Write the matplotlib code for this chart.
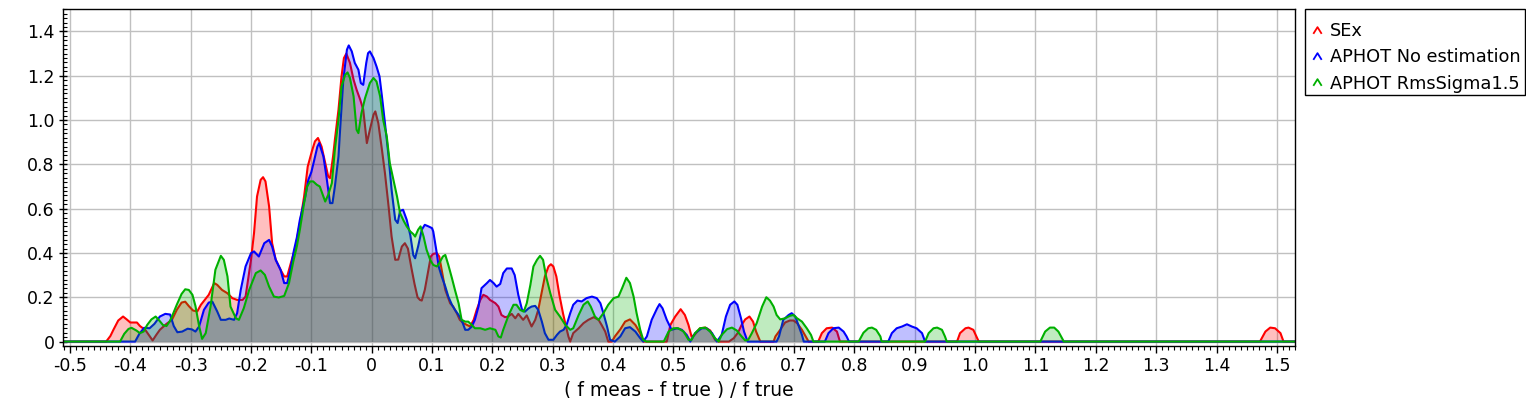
import matplotlib
matplotlib.use("Agg")
import matplotlib.pyplot as plt
from matplotlib.lines import Line2D
from matplotlib.path import Path
from matplotlib.patches import Rectangle
from matplotlib.ticker import MultipleLocator, FuncFormatter

sex_x = [-0.52, -0.44, -0.433, -0.428, -0.42, -0.412, -0.406, -0.40, -0.389, -0.384, -0.375, -0.368, -0.363, -0.357,
         -0.351, -0.34, -0.331, -0.323, -0.315, -0.309, -0.303, -0.296, -0.289, -0.283, -0.27, -0.261, -0.256, -0.248,
         -0.239, -0.231, -0.223, -0.214, -0.209, -0.2, -0.195, -0.19, -0.184, -0.18, -0.176, -0.17, -0.165, -0.159,
         -0.151, -0.145, -0.14, -0.134, -0.126, -0.118, -0.112, -0.106, -0.099, -0.094, -0.089, -0.083, -0.077, -0.072,
         -0.069, -0.064, -0.061, -0.055, -0.05, -0.046, -0.042, -0.036, -0.03, -0.025, -0.019, -0.014, -0.011, -0.008,
         -0.003, 0.003, 0.006, 0.011, 0.017, 0.022, 0.028, 0.033, 0.039, 0.044, 0.05, 0.055, 0.06, 0.066, 0.071, 0.076,
         0.08, 0.083, 0.088, 0.094, 0.098, 0.102, 0.108, 0.112, 0.116, 0.122, 0.13, 0.135, 0.141, 0.146, 0.152, 0.158,
         0.163, 0.169, 0.174, 0.18, 0.185, 0.191, 0.196, 0.205, 0.21, 0.215, 0.221, 0.226, 0.232, 0.238, 0.243, 0.251,
         0.257, 0.265, 0.271, 0.276, 0.282, 0.287, 0.293, 0.297, 0.301, 0.306, 0.311, 0.317, 0.322, 0.326, 0.329, 0.334,
         0.343, 0.351, 0.359, 0.368, 0.376, 0.381, 0.387, 0.392, 0.398, 0.403, 0.412, 0.42, 0.428, 0.437, 0.445, 0.45,
         0.489, 0.495, 0.503, 0.512, 0.519, 0.525, 0.53, 0.535, 0.544, 0.553, 0.561, 0.569, 0.575, 0.592, 0.6, 0.607,
         0.613, 0.619, 0.626, 0.632, 0.637, 0.644, 0.666, 0.669, 0.677, 0.685, 0.693, 0.699, 0.705, 0.713, 0.721, 0.724,
         0.74, 0.746, 0.754, 0.763, 0.771, 0.776, 0.97, 0.975, 0.984, 0.989, 0.997, 1.006, 1.472, 1.481, 1.489, 1.497,
         1.506, 1.511, 1.54]
sex_y = [0, 0, 0.025, 0.053, 0.095, 0.113, 0.10, 0.086, 0.086, 0.07, 0.052, 0.025, 0.005, 0.03,
         0.053, 0.08, 0.098, 0.143, 0.176, 0.18, 0.16, 0.14, 0.136, 0.166, 0.211, 0.264, 0.256, 0.233,
         0.218, 0.196, 0.188, 0.188, 0.203, 0.369, 0.489, 0.655, 0.73, 0.742, 0.723, 0.61, 0.444, 0.369,
         0.324, 0.294, 0.294, 0.354, 0.429, 0.55, 0.655, 0.79, 0.86, 0.904, 0.919, 0.88, 0.806, 0.745,
         0.738, 0.836, 0.911, 1.047, 1.197, 1.28, 1.3, 1.258, 1.182, 1.137, 1.092, 1.047, 0.971, 0.896,
         0.956, 1.024, 1.039, 0.986, 0.866, 0.76, 0.61, 0.474, 0.369, 0.37, 0.429, 0.444, 0.42, 0.33, 0.26, 0.2,
         0.188, 0.185, 0.233, 0.324, 0.384, 0.396, 0.399, 0.384, 0.324, 0.233, 0.173, 0.158, 0.128, 0.098, 0.083, 0.075,
         0.068, 0.098, 0.143, 0.188, 0.211, 0.203, 0.188, 0.173, 0.158, 0.12, 0.11, 0.113, 0.125, 0.105, 0.125, 0.098,
         0.118, 0.068, 0.098, 0.143, 0.226, 0.294, 0.339, 0.349, 0.339, 0.294, 0.211, 0.128, 0.068, 0.023, 0, 0.038,
         0.06, 0.083, 0.098, 0.11, 0.098, 0.075, 0.045, 0, 0, 0.023, 0.055, 0.09, 0.1, 0.075, 0.038, 0,
         0, 0.075, 0.113, 0.146, 0.12, 0.075, 0.023, 0.03, 0.06, 0.063, 0.05, 0.008, 0, 0, 0.015, 0.04,
         0.075, 0.1, 0.113, 0.09, 0.045, 0, 0, 0.023, 0.053, 0.086, 0.095, 0.095, 0.083, 0.053, 0.015, 0,
         0, 0.038, 0.06, 0.063, 0.045, 0, 0, 0.038, 0.06, 0.063, 0.053, 0, 0, 0.045, 0.063, 0.06,
         0.038, 0, 0]

noest_x = [-0.52, -0.392, -0.385, -0.377, -0.368, -0.36, -0.351, -0.342, -0.334, -0.328, -0.322, -0.314, -0.305,
           -0.298, -0.292, -0.286, -0.278, -0.27, -0.264, -0.256, -0.25, -0.242, -0.236, -0.228, -0.223, -0.217,
           -0.209, -0.2, -0.195, -0.187, -0.178, -0.17, -0.165, -0.159, -0.151, -0.145, -0.14, -0.135, -0.129, -0.124,
           -0.119, -0.11, -0.105, -0.1, -0.096, -0.09, -0.087, -0.08, -0.075, -0.069, -0.065, -0.061, -0.055, -0.052,
           -0.047, -0.041, -0.038, -0.033, -0.028, -0.022, -0.018, -0.014, -0.009, -0.006, -0.003, 0.003, 0.008, 0.013,
           0.017, 0.022, 0.028, 0.033, 0.039, 0.043, 0.047, 0.052, 0.058, 0.064, 0.069, 0.072, 0.077, 0.083, 0.088,
           0.094, 0.1, 0.102, 0.107, 0.111, 0.116, 0.122, 0.127, 0.133, 0.138, 0.144, 0.149, 0.155, 0.16, 0.166, 0.171,
           0.177, 0.182, 0.191, 0.196, 0.202, 0.207, 0.213, 0.218, 0.224, 0.232, 0.237, 0.243, 0.249, 0.254, 0.26,
           0.265, 0.271, 0.276, 0.282, 0.287, 0.293, 0.301, 0.307, 0.312, 0.318, 0.323, 0.329, 0.334, 0.341, 0.348,
           0.356, 0.365, 0.373, 0.379, 0.384, 0.39, 0.395, 0.403, 0.412, 0.42, 0.428, 0.437, 0.445, 0.45, 0.456, 0.464,
           0.473, 0.477, 0.482, 0.489, 0.497, 0.506, 0.514, 0.522, 0.528, 0.536, 0.547, 0.555, 0.564, 0.572, 0.58,
           0.587, 0.594, 0.601, 0.606, 0.612, 0.617, 0.623, 0.671, 0.675, 0.682, 0.691, 0.696, 0.702, 0.707, 0.713,
           0.716, 0.751, 0.757, 0.765, 0.774, 0.782, 0.787, 0.791, 0.856, 0.862, 0.87, 0.879, 0.887, 0.895, 0.903,
           0.912, 0.917, 1.54]
noest_y = [0, 0, 0.035, 0.062, 0.06, 0.08, 0.113, 0.125, 0.122, 0.07, 0.042, 0.045, 0.058,
           0.055, 0.045, 0.068, 0.143, 0.176, 0.18, 0.136, 0.098, 0.098, 0.104, 0.098, 0.128, 0.233,
           0.339, 0.399, 0.407, 0.384, 0.444, 0.459, 0.429, 0.369, 0.324, 0.264, 0.264, 0.32, 0.41, 0.47,
           0.55, 0.655, 0.73, 0.765, 0.81, 0.88, 0.896, 0.836, 0.745, 0.625, 0.625, 0.7, 0.836, 0.971,
           1.182, 1.318, 1.337, 1.31, 1.258, 1.227, 1.167, 1.159, 1.258, 1.302, 1.31, 1.28, 1.242, 1.197,
           1.107, 0.986, 0.836, 0.685, 0.55, 0.535, 0.59, 0.595, 0.55, 0.48, 0.39, 0.376, 0.43, 0.505, 0.527,
           0.52, 0.512, 0.497, 0.414, 0.339, 0.294, 0.248, 0.203, 0.166, 0.143, 0.12, 0.098, 0.053, 0.053, 0.068, 0.098,
           0.158, 0.241, 0.264, 0.278, 0.264, 0.248, 0.26, 0.309, 0.33, 0.33, 0.3, 0.21, 0.145, 0.135, 0.15,
           0.158, 0.161, 0.143, 0.09, 0.038, 0.008, 0.008, 0.03, 0.045, 0.053, 0.075, 0.128, 0.166, 0.185, 0.181,
           0.196, 0.203, 0.196, 0.173, 0.128, 0.068, 0.008, 0, 0.023, 0.06, 0.065, 0.045, 0.015, 0, 0.023, 0.098,
           0.15, 0.169, 0.15, 0.098, 0.053, 0.06, 0.053, 0.03, 0, 0.038, 0.06, 0.06, 0.038, 0, 0.03,
           0.113, 0.166, 0.181, 0.166, 0.105, 0.045, 0, 0, 0.023, 0.098, 0.12, 0.128, 0.113, 0.075, 0.03,
           0, 0, 0.038, 0.06, 0.063, 0.045, 0.023, 0, 0, 0.038, 0.06, 0.068, 0.078, 0.068, 0.06,
           0.038, 0, 0]

rms_x = [-0.52, -0.417, -0.41, -0.403, -0.398, -0.39, -0.384, -0.378, -0.372, -0.365, -0.358, -0.352, -0.346, -0.34,
         -0.335, -0.331, -0.323, -0.315, -0.309, -0.303, -0.297, -0.292, -0.286, -0.281, -0.275, -0.267, -0.259,
         -0.25, -0.245, -0.239, -0.234, -0.225, -0.22, -0.212, -0.203, -0.192, -0.184, -0.177, -0.17, -0.162, -0.154,
         -0.145, -0.137, -0.13, -0.124, -0.119, -0.112, -0.107, -0.102, -0.097, -0.091, -0.086, -0.08, -0.077, -0.072,
         -0.066, -0.061, -0.055, -0.05, -0.044, -0.04, -0.036, -0.03, -0.025, -0.022, -0.017, -0.011, -0.003, 0.003,
         0.008, 0.014, 0.019, 0.025, 0.03, 0.036, 0.042, 0.047, 0.053, 0.058, 0.064, 0.069, 0.072, 0.077, 0.081,
         0.086, 0.091, 0.097, 0.102, 0.108, 0.112, 0.118, 0.122, 0.127, 0.133, 0.138, 0.144, 0.149, 0.155, 0.16,
         0.166, 0.171, 0.18, 0.188, 0.196, 0.205, 0.21, 0.214, 0.218, 0.227, 0.235, 0.24, 0.246, 0.252, 0.257, 0.263,
         0.268, 0.274, 0.279, 0.284, 0.289, 0.296, 0.304, 0.312, 0.321, 0.329, 0.334, 0.343, 0.351, 0.358, 0.363,
         0.37, 0.376, 0.384, 0.392, 0.401, 0.409, 0.415, 0.422, 0.428, 0.434, 0.439, 0.445, 0.45, 0.455, 0.484, 0.492,
         0.5, 0.508, 0.517, 0.525, 0.53, 0.536, 0.544, 0.553, 0.561, 0.569, 0.575, 0.58, 0.589, 0.597, 0.605, 0.613,
         0.619, 0.624, 0.63, 0.638, 0.647, 0.654, 0.66, 0.666, 0.671, 0.677, 0.685, 0.693, 0.699, 0.705, 0.713, 0.721,
         0.728, 0.732, 0.807, 0.815, 0.823, 0.829, 0.836, 0.843, 0.845, 0.917, 0.923, 0.931, 0.937, 0.945, 0.95,
         0.953, 1.108, 1.116, 1.124, 1.131, 1.138, 1.147, 1.54]
rms_y = [0, 0, 0.035, 0.057, 0.062, 0.05, 0.038, 0.045, 0.075, 0.1, 0.113, 0.095, 0.075, 0.07,
         0.09, 0.113, 0.166, 0.215, 0.236, 0.233, 0.211, 0.16, 0.07, 0.012, 0.038, 0.158, 0.324,
         0.387, 0.369, 0.294, 0.158, 0.105, 0.098, 0.15, 0.233, 0.309, 0.321, 0.301, 0.248, 0.203, 0.199,
         0.206, 0.264, 0.36, 0.43, 0.505, 0.625, 0.7, 0.723, 0.723, 0.708, 0.7, 0.655, 0.632, 0.663,
         0.715, 0.866, 1.001, 1.152, 1.204, 1.215, 1.19, 1.107, 0.956, 0.941, 1.031, 1.099, 1.167, 1.19,
         1.174, 1.107, 1.001, 0.926, 0.806, 0.73, 0.655, 0.58, 0.545, 0.52, 0.497, 0.485, 0.474, 0.505, 0.52,
         0.474, 0.414, 0.369, 0.346, 0.339, 0.354, 0.384, 0.391, 0.346, 0.286, 0.233, 0.173, 0.098, 0.09, 0.09,
         0.075, 0.06, 0.06, 0.053, 0.06, 0.053, 0.023, 0.018, 0.053, 0.12, 0.166, 0.166, 0.143, 0.135, 0.173, 0.256,
         0.339, 0.369, 0.387, 0.369, 0.294, 0.218, 0.143, 0.113, 0.075, 0.053, 0.06, 0.12, 0.166, 0.181, 0.158,
         0.113, 0.098, 0.128, 0.166, 0.196, 0.203, 0.241, 0.288, 0.264, 0.203, 0.128, 0.053, 0.008, 0, 0, 0.045,
         0.06, 0.06, 0.045, 0.008, 0.008, 0.038, 0.06, 0.063, 0.045, 0.015, 0, 0.03, 0.056, 0.063, 0.05, 0.023,
         0.005, 0.008, 0.038, 0.083, 0.158, 0.2, 0.185, 0.158, 0.12, 0.1, 0.105, 0.116, 0.12, 0.105, 0.09, 0.06,
         0.03, 0, 0, 0.04, 0.06, 0.063, 0.053, 0.023, 0, 0, 0.038, 0.06, 0.063, 0.053, 0.023,
         0, 0, 0.045, 0.063, 0.063, 0.045, 0, 0]

labels = ["SEx", "APHOT No estimation", "APHOT RmsSigma1.5"]
colors = ["#ff0000", "#0000ff", "#00b000"]

W, H = 1526, 398
fig = plt.figure(figsize=(W / 100, H / 100), dpi=100)
ax = fig.add_axes([0.0411, 0.1307, 0.8075, 0.8459])

# each series: filled area first, then its outline (later fills tint earlier lines)
for xs, ys, c in zip([sex_x, noest_x, rms_x], [sex_y, noest_y, rms_y], colors):
    ax.fill_between(xs, 0, ys, color=c, alpha=0.25, linewidth=0, zorder=2)
    ax.plot(xs, ys, color=c, linewidth=1.5, zorder=2)

ax.set_xlim(-0.512, 1.53)
ax.set_ylim(-0.02, 1.5)

fmt = FuncFormatter(lambda v, p: "0" if abs(v) < 1e-9 else "%.1f" % v)
ax.xaxis.set_major_locator(MultipleLocator(0.1))
ax.xaxis.set_minor_locator(MultipleLocator(0.01))
ax.yaxis.set_major_locator(MultipleLocator(0.2))
ax.yaxis.set_minor_locator(MultipleLocator(0.02))
ax.xaxis.set_major_formatter(fmt)
ax.yaxis.set_major_formatter(fmt)

ax.tick_params(axis='x', which='major', direction='out', length=5, width=1, labelsize=12.5, pad=3)
ax.tick_params(axis='x', which='minor', direction='out', length=3, width=0.8)
ax.tick_params(axis='y', which='major', direction='inout', length=6, width=1, labelsize=12.5, pad=3)
ax.tick_params(axis='y', which='minor', direction='in', length=3, width=0.8)

ax.grid(True, which='major', color='#c0c0c0', linewidth=1, zorder=0)
ax.set_axisbelow(True)
for s in ax.spines.values():
    s.set_linewidth(1)

ax.set_xlabel("( f meas - f true ) / f true", fontsize=13.5, labelpad=4)

# legend box drawn by hand so the entries can sit where the reference has them
fig.patches.append(Rectangle((1305 / W, 1 - 95 / H), 220 / W, 86 / H, transform=fig.transFigure,
                             facecolor='white', edgecolor='black', linewidth=1, zorder=1))
caret = Path([(-1, -0.8), (0, 0.8), (1, -0.8)], [Path.MOVETO, Path.LINETO, Path.LINETO])
handles = [Line2D([], [], linestyle='none', marker=caret, markersize=6, markeredgewidth=1.3,
                  markerfacecolor='none', color=c) for c in colors]
leg = fig.legend(handles, labels, loc='upper left', bbox_to_anchor=(1312 / W, 1 - 22 / H),
                 fontsize=12.8, frameon=False, handlelength=0.55, handletextpad=0.45,
                 labelspacing=0.47, borderpad=0, borderaxespad=0)

fig.savefig("out.png", dpi=100)
